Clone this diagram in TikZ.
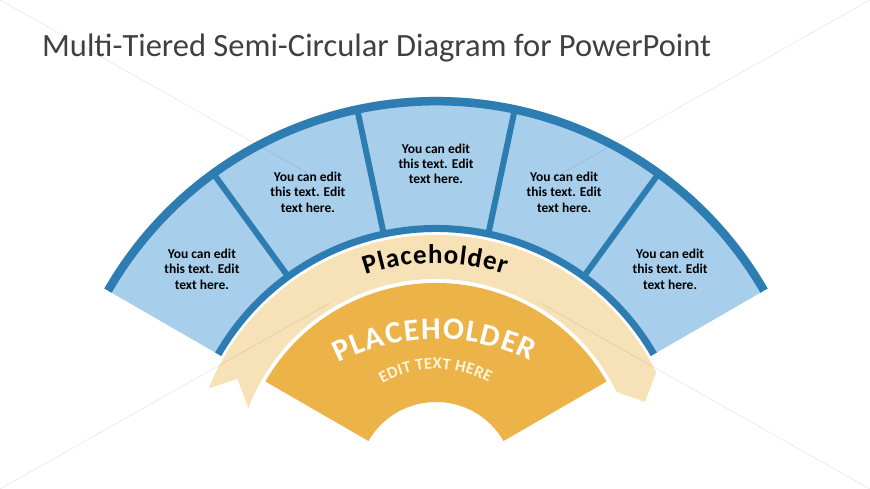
\documentclass[tikz,border=0pt]{standalone}
\usepackage{fontspec}
\newfontfamily\calfont{Carlito}
\usetikzlibrary{decorations.text,calc}
\definecolor{lblue}{HTML}{A7CFEB}
\definecolor{dblue}{HTML}{2E7DB2}
\definecolor{tanc}{HTML}{F7E1B7}
\definecolor{orng}{HTML}{ECB348}
\definecolor{titlec}{HTML}{404040}
\definecolor{creamc}{HTML}{FFF4DC}
\tikzset{
  celltext/.style={align=center, inner sep=0pt, text=black,
    font=\calfont\bfseries\fontsize{13.5}{15.3}\selectfont},
  bgline/.style={black, opacity=0.08, line width=0.8pt},
}
\begin{document}
\begin{tikzpicture}[x=1pt,y=1pt]
\useasboundingbox (0,0) rectangle (870,489);
\fill[white] (0,0) rectangle (870,489);
\coordinate (C) at (436,9);

\node[anchor=base west, inner sep=0pt, text=titlec,
  font=\calfont\fontsize{32.5}{38}\selectfont] (title) at (42,432)
  {Multi-Tiered Semi-Circular Diagram for PowerPoint};

\begin{scope}[shift={(C)}]
  % blue fan
  \fill[lblue] (150:248pt) arc[start angle=150,end angle=30,radius=248pt]
    -- (30:383pt) arc[start angle=30,end angle=150,radius=383pt] -- cycle;
  \draw[dblue, line width=8.5pt] (150:378.75pt) arc[start angle=150,end angle=30,radius=378.75pt];
  \draw[dblue, line width=7pt] (150:251.5pt) arc[start angle=150,end angle=30,radius=251.5pt];
  \foreach \a in {54,78,102,126}
    \draw[dblue, line width=6pt] (\a:252pt) -- (\a:378pt);
  % ribbon
  \fill[tanc] (158:245pt) arc[start angle=158,end angle=26,radius=245pt]
    -- (20.5:223pt) -- (26:201pt) arc[start angle=26,end angle=159,radius=201pt]
    -- (153:223pt) -- cycle;
  % orange sector
  \fill[orng] (150:78pt) arc[start angle=150,end angle=30,radius=78pt]
    -- (30:197pt) arc[start angle=30,end angle=150,radius=197pt] -- cycle;
  % cell texts
  \node[celltext] (t1) at (138:315pt) {You can edit\\this text. Edit\\text here.};
  \node[celltext] (t2) at (114:315pt) {You can edit\\this text. Edit\\text here.};
  \node[celltext] (t3) at (90:316pt) {You can edit\\this text. Edit\\text here.};
  \node[celltext] (t4) at (66:315pt) {You can edit\\this text. Edit\\text here.};
  \node[celltext] (t5) at (42:315pt) {You can edit\\this text. Edit\\text here.};
  % ribbon text
  \path[decorate, decoration={text along path,
      text={|\calfont\bfseries\fontsize{27}{27}\selectfont|Placeholder},
      text align=fit to path}]
    (109:217pt) arc[start angle=109,end angle=71.5,radius=217pt];
\end{scope}

% orange texts
\coordinate (P1) at (436,-62);
\coordinate (P2) at (436,11);
\path[decorate, decoration={text along path,
    text={|\calfont\bfseries\fontsize{31}{31}\selectfont\color{white}|PLACEHOLDER},
    text align=fit to path}]
  ($(P1)+(117.5:212pt)$) arc[start angle=117.5,end angle=63.5,radius=212pt];
\path[decorate, decoration={text along path,
    text={|\calfont\bfseries\fontsize{16.5}{16.5}\selectfont\color{creamc}|EDIT TEXT HERE},
    text align=fit to path}]
  ($(P2)+(119.5:109pt)$) arc[start angle=119.5,end angle=61,radius=109pt];

% faint background diagonals
\draw[bgline] (0,489) -- (320,309);
\draw[bgline] (540,186) -- (870,0);
\draw[bgline] (870,489) -- (545,306);
\draw[bgline] (330,186) -- (0,0);
\end{tikzpicture}
\end{document}
